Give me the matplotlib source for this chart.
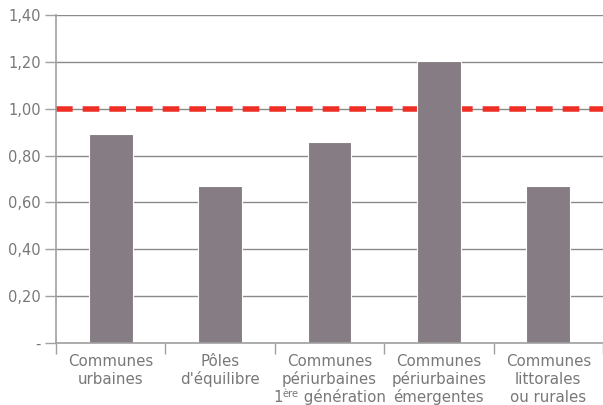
import matplotlib
matplotlib.use("Agg")
import matplotlib.pyplot as plt
from matplotlib.ticker import FixedLocator, FuncFormatter

categories = [
    ["Communes", "urbaines"],
    ["Pôles", "d'équilibre"],
    ["Communes", "périurbaines", ("1", "ère", " génération")],
    ["Communes", "périurbaines", "émergentes"],
    ["Communes", "littorales", "ou rurales"],
]
values = [0.89, 0.67, 0.86, 1.205, 0.67]
reference_level = 1.00
y_ticks = [0.0, 0.2, 0.4, 0.6, 0.8, 1.0, 1.2, 1.4]

plt.rcParams["font.family"] = ["DejaVu Sans"]

DPI = 100
fig = plt.figure(figsize=(6.03, 4.05), dpi=DPI)
ax = fig.add_axes([0.093, 0.153, 0.907, 0.810])

grey_line = "#a0a0a0"
text_grey = "#787878"
bar_color = "#867c83"
label_size = 10.8
sup_size = 7.2

n = len(categories)
x = list(range(n))

ax.set_xlim(-0.5, n - 0.5)
ax.set_ylim(0, 1.4)

ax.yaxis.set_major_locator(FixedLocator(y_ticks))
ax.yaxis.set_major_formatter(
    FuncFormatter(lambda v, _: "-" if abs(v) < 1e-9 else f"{v:.2f}".replace(".", ","))
)
ax.grid(axis="y", color="#8a8a8a", linewidth=1.0, zorder=0)
ax.set_axisbelow(True)

ax.axhline(reference_level, color="#ef2f26", linewidth=4, dashes=(3.0, 1.8), zorder=1)

ax.bar(x, values, width=0.4, color=bar_color, edgecolor="white", linewidth=0.8, zorder=2)

# boundary ticks between categories, labels drawn line by line below
ax.set_xticks([i - 0.5 for i in range(n + 1)])
ax.set_xticklabels([])
ax.tick_params(axis="x", which="major", length=8, color=grey_line, width=1)
ax.tick_params(axis="y", length=8, color=grey_line, width=1, labelsize=10.5,
               labelcolor=text_grey, pad=3)

renderer = fig.canvas.get_renderer()
px = 72.0 / DPI


def text_width_px(s, size):
    t = fig.text(0, 0, s, fontsize=size)
    w = t.get_window_extent(renderer=renderer).width
    t.remove()
    return w


def put(s, xi, dx_px, dy_px, size, ha="center"):
    ax.annotate(s, xy=(xi, 0), xycoords=("data", "axes fraction"),
                xytext=(dx_px * px, dy_px * px), textcoords="offset points",
                ha=ha, va="baseline", fontsize=size, color=text_grey,
                annotation_clip=False)


first_baseline = 23.0
line_step = 18.0
for i, lines in enumerate(categories):
    for k, line in enumerate(lines):
        dy = -(first_baseline + k * line_step)
        if isinstance(line, tuple):
            base, sup, rest = line
            w_base = text_width_px(base, label_size)
            w_sup = text_width_px(sup, sup_size)
            w_rest = text_width_px(rest, label_size)
            start = -(w_base + w_sup + w_rest) / 2
            put(base, i, start, dy, label_size, ha="left")
            put(sup, i, start + w_base, dy + 5, sup_size, ha="left")
            put(rest, i, start + w_base + w_sup, dy, label_size, ha="left")
        else:
            put(line, i, 0, dy, label_size)

for side in ("top", "right"):
    ax.spines[side].set_visible(False)
for side in ("left", "bottom"):
    ax.spines[side].set_color(grey_line)
    ax.spines[side].set_linewidth(1.2)

fig.savefig("out.png", dpi=DPI)
